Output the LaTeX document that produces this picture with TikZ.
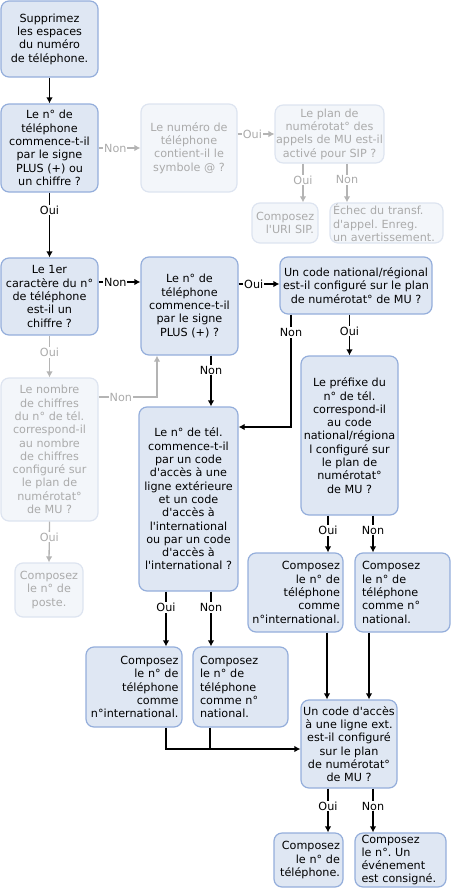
\documentclass[tikz,border=0pt]{standalone}
\usepackage{fontspec}
\usetikzlibrary{arrows.meta}
\newfontfamily\diagfont{DejaVu Sans}
\definecolor{boxfill}{HTML}{DFE7F3}
\definecolor{boxline}{HTML}{94AEDB}
\definecolor{dimfill}{HTML}{F3F6FA}
\definecolor{dimline}{HTML}{DDE4F0}
\definecolor{dimtext}{HTML}{ABABAB}
\definecolor{dimarrow}{HTML}{B4B4B4}

\begin{document}
\begin{tikzpicture}[
        > = {Latex[length = 6pt, width = 6.5pt]},
        x = 1pt, y = -1pt,
        every node/.style = {font = \diagfont\fontsize{11.2}{13.3}\selectfont},
        box/.style = {draw = boxline, fill = boxfill, line width = 1.2pt, rounded corners = 8pt, inner sep = 1pt, align = center},
        dimbox/.style = {box, draw = dimline, fill = dimfill, text = dimtext},
        lbl/.style = {fill = white, inner sep = 1pt},
        dimlbl/.style = {lbl, text = dimtext},
        link/.style = {->, line width = 1.5pt},
        dimlink/.style = {->, draw = dimarrow, line width = 1.3pt}
    ]
        \useasboundingbox (0,0) rectangle (452,889);

        \node[box, minimum width = 97, minimum height = 76] (supp) at (49.5,39) {Supprimez\\les espaces\\du numéro\\de téléphone.};
        \node[box, minimum width = 97, minimum height = 88] (plusq) at (49.5,148) {Le n° de\\téléphone\\commence-t-il\\par le signe\\PLUS (+) ou\\un chiffre ?};
        \node[dimbox, minimum width = 96, minimum height = 88] (atq) at (189,148) {Le numéro de\\téléphone\\contient-il le\\symbole @ ?};
        \node[dimbox, minimum width = 105, minimum height = 58] (sipq) at (329.5,134) {Le plan de\\numérotat° des\\appels de MU est-il\\activé pour SIP ?};
        \node[dimbox, minimum width = 66, minimum height = 40, text width = 58, align = right] (uri) at (285,223) {Composez\\l'URI SIP.};
        \node[dimbox, minimum width = 113, minimum height = 40, text width = 107, align = left] (fail) at (386.5,223) {Échec du transf.\\d'appel.\ Enreg.\\un avertissement.};
        \node[box, minimum width = 97, minimum height = 77] (firstq) at (49.5,296.5) {Le 1er\\caractère du n°\\de téléphone\\est-il un\\chiffre ?};
        \node[box, minimum width = 97, minimum height = 98] (plus2q) at (189.5,306) {Le n° de\\téléphone\\commence-t-il\\par le signe\\PLUS (+) ?};
        \node[box, minimum width = 152, minimum height = 57] (natq) at (356,285.5) {Un code national/régional\\est-il configuré sur le plan\\de numérotat° de MU ?};
        \node[dimbox, minimum width = 97, minimum height = 143] (countq) at (49.5,449.5) {Le nombre\\de chiffres\\du n° de tél.\\correspond-il\\au nombre\\de chiffres\\configuré sur\\le plan de\\numérotat°\\de MU ?};
        \node[dimbox, minimum width = 68, minimum height = 54] (poste) at (49,590) {Composez\\le n° de\\poste.};
        \node[box, minimum width = 99, minimum height = 184] (intlq) at (188.5,499) {Le n° de tél.\\commence-t-il\\par un code\\d'accès à une\\ligne extérieure\\et un code\\d'accès à\\l'international\\ou par un code\\d'accès à\\l'international ?};
        \node[box, minimum width = 97, minimum height = 159] (prefq) at (349.5,435.5) {Le préfixe du\\n° de tél.\\correspond-il\\au code\\national/régiona\\l configuré sur\\le plan de\\numérotat°\\de MU ?};
        \node[box, minimum width = 95, minimum height = 79, text width = 89, align = right] (intla) at (295.5,592.5) {Composez\\le n° de\\téléphone\\comme\\n°international.};
        \node[box, minimum width = 95, minimum height = 79, text width = 81, align = left] (nata) at (402.5,592.5) {Composez\\le n° de\\téléphone\\comme n°\\national.};
        \node[box, minimum width = 96, minimum height = 80, text width = 89, align = right] (intlb) at (134,687) {Composez\\le n° de\\téléphone\\comme\\n°international.};
        \node[box, minimum width = 95, minimum height = 80, text width = 81, align = left] (natb) at (240.5,687) {Composez\\le n° de\\téléphone\\comme n°\\national.};
        \node[box, minimum width = 96, minimum height = 88] (extq) at (349,744) {Un code d'accès\\à une ligne ext.\\est-il configuré\\sur le plan\\de numérotat°\\de MU ?};
        \node[box, minimum width = 69, minimum height = 54, text width = 63, align = right] (dial) at (308.5,860) {Composez\\le n° de\\téléphone.};
        \node[box, minimum width = 91, minimum height = 54, text width = 78, align = left] (logged) at (400.5,860) {Composez\\le n°.\ Un\\événement\\est consigné.};
        \coordinate (merge) at (210,749);

        \draw[link] (supp.south) -- (plusq.north);
        \draw[dimlink] (plusq.east) -- node[dimlbl, pos = 0.4] {Non} (atq.west);
        \draw[dimlink] (atq.east |- sipq.west) -- node[dimlbl, pos = 0.4] {Oui} (sipq.west);
        \draw[dimlink] (sipq.south -| 303,0) -- node[dimlbl, pos = 0.42] {Oui} (uri.north -| 303,0);
        \draw[dimlink] (sipq.south -| 347,0) -- node[dimlbl, pos = 0.42] {Non} (fail.north -| 347,0);
        \draw[link] (plusq.south) -- node[lbl, pos = 0.27] {Oui} (firstq.north);
        \draw[link] (firstq.east |- 0,282) -- node[lbl, pos = 0.4] {Non} (plus2q.west |- 0,282);
        \draw[link] (plus2q.east |- 0,284) -- node[lbl, pos = 0.37] {Oui} (natq.west |- 0,284);
        \draw[dimlink] (firstq.south) -- node[dimlbl, pos = 0.4] {Oui} (countq.north);
        \draw[dimlink] (countq.east |- 0,397) -| node[dimlbl, pos = 0.19] {Non} (plus2q.south -| 157,0);
        \draw[dimlink] (countq.south) -- node[dimlbl, pos = 0.38] {Oui} (poste.north);
        \draw[link] (plus2q.south -| 211,0) -- node[lbl, pos = 0.29] {Non} (intlq.north -| 211,0);
        \draw[link] (natq.south -| 291,0) |- node[lbl, pos = 0.08] {Non} (intlq.east |- 0,427);
        \draw[link] (natq.south -| prefq.north) -- node[lbl, pos = 0.4] {Oui} (prefq.north);
        \draw[link] (prefq.south -| 328,0) -- node[lbl, pos = 0.4] {Oui} (intla.north -| 328,0);
        \draw[link] (prefq.south -| 373,0) -- node[lbl, pos = 0.4] {Non} (nata.north -| 373,0);
        \draw[link] (intlq.south -| 166,0) -- node[lbl, pos = 0.29] {Oui} (intlb.north -| 166,0);
        \draw[link] (intlq.south -| 211,0) -- node[lbl, pos = 0.29] {Non} (natb.north -| 211,0);
        \draw[link] (intla.south -| 327,0) -- (extq.north -| 327,0);
        \draw[link] (nata.south -| 369,0) -- (extq.north -| 369,0);
        \draw[link] (intlb.south -| 166,0) |- (extq.west |- merge);
        \draw[line width = 1.5pt] (natb.south -| merge) -- (merge);
        \draw[link] (extq.south -| 328,0) -- node[lbl, pos = 0.4] {Oui} (dial.north -| 328,0);
        \draw[link] (extq.south -| 373,0) -- node[lbl, pos = 0.4] {Non} (logged.north -| 373,0);
    \end{tikzpicture}
\end{document}
